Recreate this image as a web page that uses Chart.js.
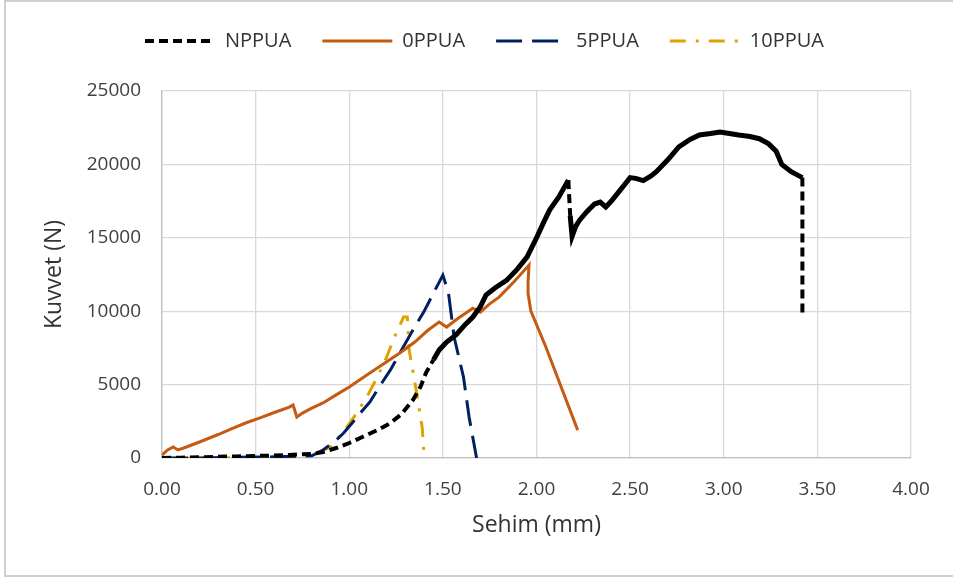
<!DOCTYPE html>
<html>
<head>
<meta charset="utf-8">
<script src="https://cdn.jsdelivr.net/npm/chart.js@4"></script>
<style>
html,body{margin:0;padding:0;background:#fff;}
#wrap{position:relative;width:953px;height:579px;}
canvas{display:block;}
</style>
</head>
<body>
<div id="wrap"><canvas id="c" width="953" height="579"></canvas></div>
<script>
// ---- Data ----
const seriesNames = ["NPPUA", "0PPUA", "5PPUA", "10PPUA"];

const npX = [0,0.1,0.2,0.3,0.4,0.5,0.6,0.7,0.8,0.86,0.93,1.0,1.07,1.15,1.22,1.28,1.34,1.38,1.41,1.45,1.48,1.52,1.57,1.62,1.66,1.70,1.73,1.78,1.84,1.90,1.95,2.0,2.04,2.07,2.12,2.17,2.18,2.19,2.21,2.23,2.27,2.31,2.34,2.37,2.40,2.45,2.50,2.53,2.57,2.61,2.64,2.70,2.76,2.82,2.87,2.93,2.98,3.03,3.08,3.14,3.19,3.24,3.28,3.31,3.36,3.42,3.42];
const npY = [0,20,50,80,110,140,170,220,280,400,680,1020,1430,1900,2380,3000,3950,4840,5800,6700,7350,7900,8380,9100,9600,10300,11100,11600,12100,12900,13700,15000,16100,16890,17800,18930,16500,15100,15800,16200,16800,17300,17430,17100,17500,18300,19100,19050,18900,19200,19500,20300,21200,21700,22000,22100,22200,22100,22000,21900,21750,21400,20900,20000,19500,19100,9700];

const p0X = [0,0.03,0.06,0.085,0.12,0.2,0.3,0.38,0.45,0.52,0.6,0.68,0.70,0.72,0.75,0.80,0.86,0.93,1.0,1.1,1.2,1.27,1.35,1.42,1.48,1.52,1.58,1.66,1.70,1.75,1.80,1.88,1.96,1.955,1.955,1.97,2.05,2.22];
const p0Y = [200,550,750,550,700,1090,1600,2040,2400,2720,3100,3470,3610,2790,3060,3400,3750,4300,4840,5700,6550,7150,7900,8700,9260,8920,9500,10200,9940,10500,10960,12000,13140,12000,11200,10000,7560,1900];

const p5X = [0,0.2,0.4,0.6,0.8,0.86,0.92,0.97,1.02,1.04,1.11,1.16,1.22,1.27,1.34,1.40,1.45,1.50,1.53,1.56,1.61,1.64,1.68];
const p5Y = [0,0,50,80,150,545,1100,1700,2450,2790,3810,4840,6000,7150,8720,10000,11240,12460,11240,8240,5520,2790,0];

const p10X = [0,0.3,0.5,0.7,0.8,0.9,0.97,1.04,1.10,1.15,1.20,1.24,1.29,1.31,1.32,1.36,1.39,1.40];
const p10Y = [0,0,50,100,200,750,1800,3060,4300,5520,6880,8200,9600,9600,7350,4430,2040,0];

const xTicks = [0,0.5,1,1.5,2,2.5,3,3.5,4];
const yTicks = [0,5000,10000,15000,20000,25000];
const xTitle = "Sehim (mm)";
const yTitle = "Kuvvet (N)";

const colors = ["#000000", "#C55A11", "#002060", "#DFA300"];

function pts(xs, ys){ return xs.map((x,i)=>({x:x, y:ys[i]})); }

Chart.defaults.font.family = "'Open Sans', sans-serif";

// dense (noisy) part of NPPUA looks solid and thick; sparse parts dashed
function isDense(ctx){
  const x0 = ctx.p0.parsed.x, x1 = ctx.p1.parsed.x;
  const y0 = ctx.p0.parsed.y, y1 = ctx.p1.parsed.y;
  return x0 >= 1.45 && x1 <= 3.42 && !(Math.abs(y1-y0) > 2000 && Math.abs(x1-x0) < 0.05);
}

const plugins = [{
  id: 'fixLayout',
  beforeLayout(chart){
    const lg = chart.legend;
    if (lg && !lg._patched){
      const orig = lg.fit;
      lg.fit = function(){ orig.call(this); this.height = 91; };
      lg._patched = true;
    }
  },
  afterLayout(chart){
    const lg = chart.legend;
    if (lg){ lg.left = 114; }
  },
  afterDraw(chart){
    const c = chart.ctx;
    c.save();
    c.strokeStyle = '#d0d0d0';
    c.lineWidth = 2;
    c.strokeRect(5, 1, 960, 575);
    c.restore();
  }
}];

new Chart(document.getElementById('c'), {
  type: 'line',
  data: {
    datasets: [
      { label: seriesNames[0], data: pts(npX, npY), borderColor: colors[0], backgroundColor: colors[0], borderWidth: 4, borderDash: [9,5],
        segment: { borderDash: c => isDense(c) ? [] : [9,5], borderWidth: c => isDense(c) ? 5 : 4 }, pointRadius: 0, tension: 0, fill: false },
      { label: seriesNames[1], data: pts(p0X, p0Y), borderColor: colors[1], backgroundColor: colors[1], borderWidth: 3, pointRadius: 0, tension: 0, fill: false },
      { label: seriesNames[2], data: pts(p5X, p5Y), borderColor: colors[2], backgroundColor: colors[2], borderWidth: 3, borderDash: [26,10], pointRadius: 0, tension: 0, fill: false },
      { label: seriesNames[3], data: pts(p10X, p10Y), borderColor: colors[3], backgroundColor: colors[3], borderWidth: 3, borderDash: [16,10,3,10], pointRadius: 0, tension: 0, fill: false }
    ]
  },
  options: {
    responsive: false,
    animation: false,
    devicePixelRatio: 1,
    layout: { padding: { left: 0, right: 42, top: 0, bottom: 0 } },
    plugins: {
      tooltip: { enabled: false },
      legend: {
        position: 'top',
        align: 'start',
        labels: {
          usePointStyle: true,
          pointStyle: 'line',
          pointStyleWidth: 70,
          padding: 31,
          color: '#333333',
          font: { size: 20 },
          generateLabels(chart){
            return chart.data.datasets.map((ds, i) => ({
              text: ds.label,
              fillStyle: ds.borderColor,
              strokeStyle: ds.borderColor,
              fontColor: '#333333',
              lineWidth: ds.borderWidth,
              lineDash: ds.borderDash || [],
              lineCap: 'butt',
              pointStyle: 'line',
              hidden: false,
              datasetIndex: i
            }));
          }
        }
      }
    },
    scales: {
      x: {
        type: 'linear',
        min: 0, max: 4,
        afterBuildTicks(s){ s.ticks = xTicks.map(v=>({value:v})); },
        afterFit(s){ s.height = 121; },
        grid: { color: '#d9d9d9', lineWidth: 1.3, drawTicks: false },
        border: { color: '#bfbfbf', width: 1.3 },
        ticks: { padding: 20, color: '#404040', font: { size: 19 }, maxRotation: 0, callback: v => Number(v).toFixed(2) },
        title: { display: true, text: xTitle, color: '#333333', font: { size: 23 }, padding: { top: 0, bottom: 40 } }
      },
      y: {
        type: 'linear',
        min: 0, max: 25000,
        afterBuildTicks(s){ s.ticks = yTicks.map(v=>({value:v})); },
        afterFit(s){ s.width = 162; },
        grid: { color: '#d9d9d9', lineWidth: 1.3, drawTicks: false },
        border: { color: '#bfbfbf', width: 1.3 },
        ticks: { padding: 21, color: '#404040', font: { size: 19 }, callback: v => String(v) },
        title: { display: true, text: yTitle, color: '#333333', font: { size: 23 }, padding: { top: 41, bottom: 0 } }
      }
    }
  },
  plugins: plugins
});
</script>
</body>
</html>
